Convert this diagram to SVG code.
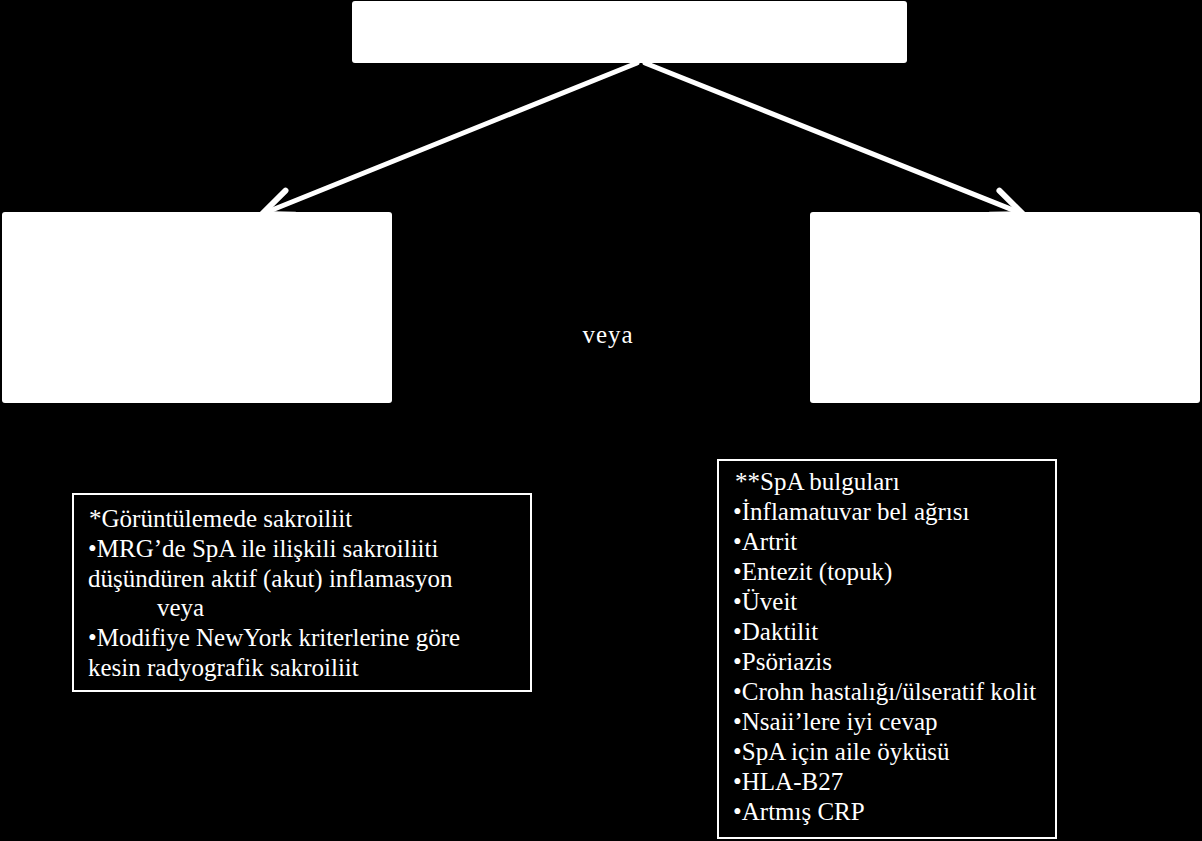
<svg xmlns="http://www.w3.org/2000/svg" width="1202" height="841" viewBox="0 0 1202 841">
  <style>
    .box { fill: #ffffff; stroke: none; }
    .note { fill: #000000; stroke: #ffffff; stroke-width: 2; }
    .conn { stroke: #ffffff; stroke-width: 5; fill: none; stroke-linecap: round; }
    .t { font-family: 'Liberation Serif', 'DejaVu Serif', serif; font-size: 25px; fill: #ffffff; }
  </style>
  <defs>
    <marker id="arrow" markerUnits="userSpaceOnUse" markerWidth="40" markerHeight="40" viewBox="-30 -15 34 30" refX="0" refY="0" orient="auto" overflow="visible">
      <path d="M-26,-11 L0,0 L-26,11" fill="none" stroke="#ffffff" stroke-width="5" stroke-linecap="round" stroke-linejoin="round"/>
    </marker>
  </defs>
  <rect x="0" y="0" width="1202" height="841" fill="#000000"/>

  <g id="connectors">
    <line class="conn" x1="637" y1="63" x2="262" y2="214" marker-end="url(#arrow)"/>
    <line class="conn" x1="645" y1="63" x2="1023" y2="214" marker-end="url(#arrow)"/>
  </g>

  <g id="node-top">
    <rect class="box" x="352" y="1" width="555" height="62" rx="3"/>
  </g>
  <g id="node-left">
    <rect class="box" x="2" y="212" width="390" height="191" rx="3"/>
  </g>
  <g id="node-right">
    <rect class="box" x="810" y="212" width="390" height="191" rx="3"/>
  </g>
  <g id="label-veya" class="t">
    <text x="608" y="343" text-anchor="middle" letter-spacing="1">veya</text>
  </g>

  <g id="note-imaging" class="t">
    <rect class="note" x="73" y="494" width="458" height="197"/>
    <text x="89" y="527">*Görüntülemede sakroiliit</text>
    <text x="88" y="557">•MRG’de SpA ile ilişkili sakroiliiti</text>
    <text x="88" y="587">düşündüren aktif (akut) inflamasyon</text>
    <text x="157" y="616">veya</text>
    <text x="88" y="646">•Modifiye NewYork kriterlerine göre</text>
    <text x="88" y="676">kesin radyografik sakroiliit</text>
  </g>

  <g id="note-spa" class="t">
    <rect class="note" x="718" y="460" width="338" height="378"/>
    <text x="735" y="490">**SpA bulguları</text>
    <text x="733" y="520">•İnflamatuvar bel ağrısı</text>
    <text x="733" y="550">•Artrit</text>
    <text x="733" y="580">•Entezit (topuk)</text>
    <text x="733" y="610">•Üveit</text>
    <text x="733" y="640">•Daktilit</text>
    <text x="733" y="670">•Psöriazis</text>
    <text x="733" y="700">•Crohn hastalığı/ülseratif kolit</text>
    <text x="733" y="730">•Nsaii’lere iyi cevap</text>
    <text x="733" y="760">•SpA için aile öyküsü</text>
    <text x="733" y="790">•HLA-B27</text>
    <text x="733" y="820">•Artmış CRP</text>
  </g>
</svg>
